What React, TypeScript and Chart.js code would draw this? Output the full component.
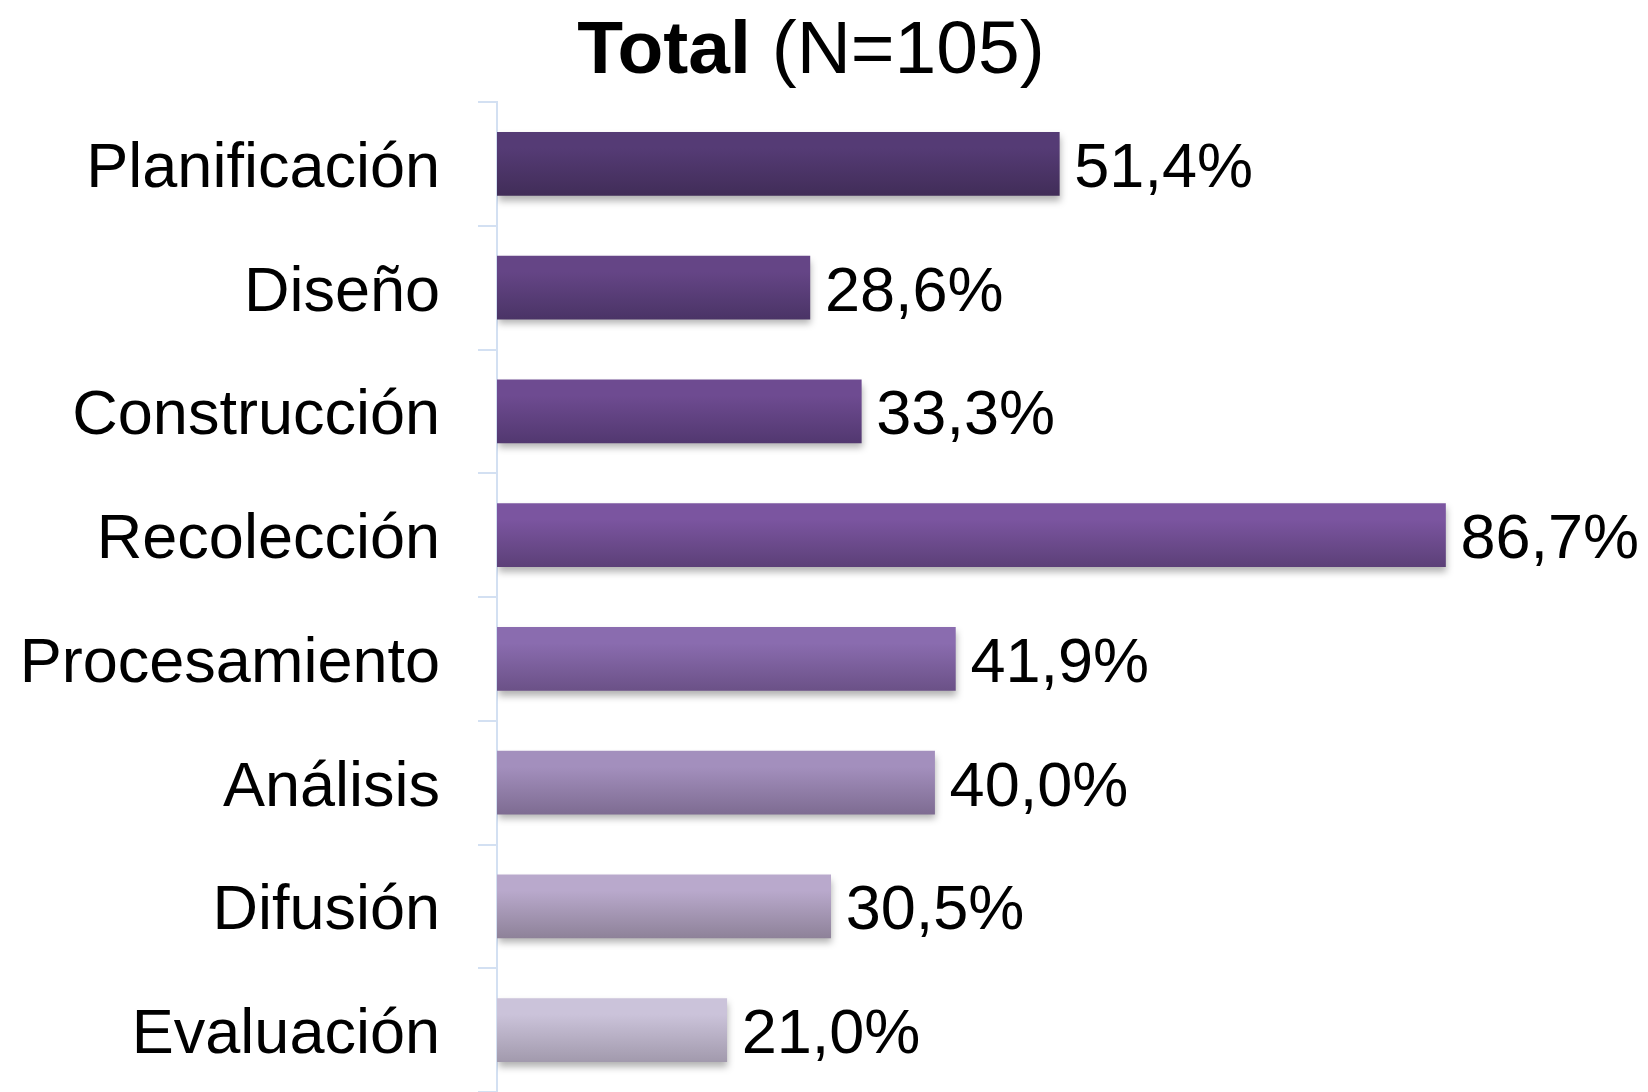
import React, { useEffect, useRef } from "react";
import { Chart, registerables } from "chart.js";

Chart.register(...registerables);

const categories = [
  "Planificación",
  "Diseño",
  "Construcción",
  "Recolección",
  "Procesamiento",
  "Análisis",
  "Difusión",
  "Evaluación",
];
const values = [51.4, 28.6, 33.3, 86.7, 41.9, 40.0, 30.5, 21.0];
const topColors = ["#553b75", "#654586", "#6e4b91", "#7b55a0", "#8a6caf", "#a38fbd", "#b9a9cc", "#cbc3da"];
const bottomColors = ["#412d58", "#4a3466", "#523870", "#5c4078", "#6b5187", "#7e6c92", "#8e8299", "#a29aad"];
const titleBold = "Total";
const titleRest = " (N=105)";

const FONT = '"Liberation Sans", Arial, sans-serif';
const BAR = 63;

export default function App() {
  const ref = useRef<HTMLCanvasElement>(null);
  useEffect(() => {
    document.body.style.margin = "0";
    const canvas = ref.current!;
    const shadowPlugin = {
      id: "shadow",
      beforeDatasetsDraw(chart: any) {
        const c = chart.ctx;
        c.save();
        c.shadowColor = "rgba(0,0,0,0.3)";
        c.shadowBlur = 7;
        c.shadowOffsetX = 1;
        c.shadowOffsetY = 5;
      },
      afterDatasetsDraw(chart: any) {
        chart.ctx.restore();
      },
    };
    const labelPlugin = {
      id: "labels",
      afterDraw(chart: any) {
        const c = chart.ctx;
        const meta = chart.getDatasetMeta(0);
        const yScale = chart.scales.y;
        c.save();
        c.fillStyle = "#000";
        c.font = `63px ${FONT}`;
        c.textBaseline = "alphabetic";
        // category labels
        c.textAlign = "right";
        categories.forEach((cat, i) => {
          const y = yScale.getPixelForValue(i);
          c.fillText(cat, 440, y + 23);
        });
        // value labels
        c.textAlign = "left";
        meta.data.forEach((el: any, i: number) => {
          const txt = values[i].toFixed(1).replace(".", ",") + "%";
          c.fillText(txt, el.x + 15, el.y + 23);
        });
        // title
        c.font = `bold 75px ${FONT}`;
        const w1 = c.measureText(titleBold).width;
        c.font = `75px ${FONT}`;
        const w2 = c.measureText(titleRest).width;
        const x0 = 811 - (w1 + w2) / 2;
        c.font = `bold 75px ${FONT}`;
        c.fillText(titleBold, x0, 73);
        c.font = `75px ${FONT}`;
        c.fillText(titleRest, x0 + w1, 73);
        c.restore();
      },
    };
    const chart = new Chart(canvas, {
      type: "bar",
      data: {
        labels: categories,
        datasets: [
          {
            data: values,
            barThickness: BAR,
            borderWidth: 0,
            backgroundColor: (ctx: any) => {
              const ch = ctx.chart;
              const i = ctx.dataIndex;
              if (!ch.chartArea || !ch.scales.y) return topColors[i];
              const y = ch.scales.y.getPixelForValue(i);
              const g = ch.ctx.createLinearGradient(0, y - BAR / 2, 0, y + BAR / 2);
              g.addColorStop(0, topColors[i]);
              g.addColorStop(0.25, topColors[i]);
              g.addColorStop(1, bottomColors[i]);
              return g;
            },
          },
        ],
      },
      options: {
        indexAxis: "y",
        responsive: false,
        animation: false,
        layout: { padding: { top: 102, right: 57, bottom: 0, left: 0 } },
        plugins: {
          legend: { display: false },
          title: { display: false },
          tooltip: { enabled: false },
        },
        scales: {
          x: { display: false, min: 0, max: 100 },
          y: {
            afterFit(scale: any) {
              scale.width = 497;
              scale.paddingTop = 0;
              scale.paddingBottom = 0;
            },
            grid: {
              display: true,
              drawOnChartArea: false,
              drawTicks: true,
              tickLength: 19,
              color: "#d3e0f2",
              lineWidth: 2,
              offset: true,
            },
            border: { display: true, color: "#d3e0f2", width: 2 },
            ticks: { display: false },
          },
        },
      },
      plugins: [shadowPlugin, labelPlugin],
    } as any);
    return () => chart.destroy();
  }, []);
  return (
    <div style={{ position: "absolute", left: 0, top: 0, width: 1648, height: 1092 }}>
      <canvas ref={ref} width={1648} height={1092} style={{ display: "block" }} />
    </div>
  );
}
